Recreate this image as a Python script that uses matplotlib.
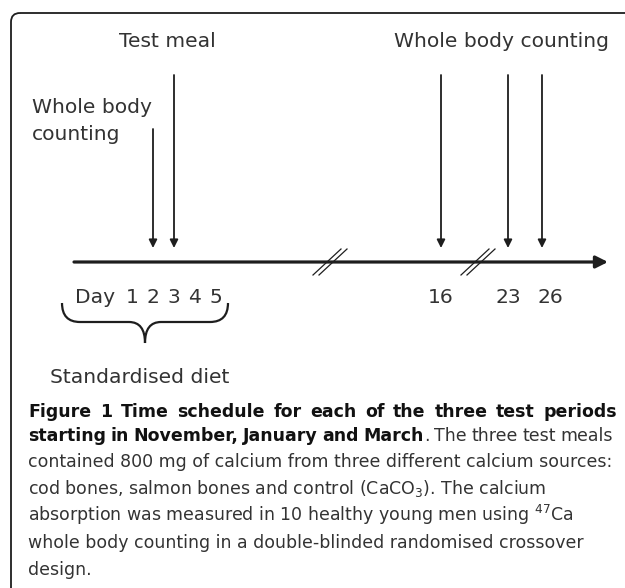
import matplotlib
matplotlib.use("Agg")
import matplotlib.pyplot as plt
import numpy as np
from matplotlib.patches import FancyBboxPatch, PathPatch
from matplotlib.path import Path

# timeline data
event_days = [2, 3, 16, 23, 26]
event_kinds = ['count', 'meal', 'count', 'count', 'count']
day_labels = [1, 2, 3, 4, 5, 16, 23, 26]
top_labels = ['Test meal', 'Whole body counting']
side_label = ['Whole body', 'counting']
brace_label = 'Standardised diet'

caption_line1 = 'Figure 1 Time schedule for each of the three test periods'
caption_line2_bold = 'starting in November, January and March'
caption_line2_rest = '. The three test meals'
caption_rest = [
    'contained 800 mg of calcium from three different calcium sources:',
    r'cod bones, salmon bones and control (CaCO$_3$). The calcium',
    r'absorption was measured in 10 healthy young men using $^{47}$Ca',
    'whole body counting in a double-blinded randomised crossover',
    'design.',
]

# broken axis: (anchor day, anchor px, px per day, px start, px end)
segments = [(1, 132, 21.0, 0, 330), (16, 441, 21.0, 330.5, 478),
            (23, 508, 11.33, 478.5, 625)]
knot_px, knot_day = [], []
for d0, p0, k, a, b in segments:
    for p in (a, b):
        knot_px.append(p)
        knot_day.append(d0 + (p - p0) / k)
knot_px = np.array(knot_px)
knot_day = np.array(knot_day)

def fwd(d):
    return np.interp(d, knot_day, knot_px)

def inv(p):
    return np.interp(p, knot_px, knot_day)

W, H = 625, 588
fig = plt.figure(figsize=(W / 100, H / 100), dpi=100)
ax = fig.add_axes([0, 0, 1, 1])
ax.set_xlim(0, W)
ax.set_ylim(H, 0)
ax.axis('off')

tl = fig.add_axes([0, 0, 1, 1])
tl.set_xscale('function', functions=(fwd, inv))
tl.set_xlim(knot_day[0], knot_day[-1])
tl.set_ylim(H, 0)
tl.axis('off')
tl.patch.set_alpha(0)

dark = '#1e1e1e'
txt = '#333333'
dfont = dict(family='DejaVu Sans', fontsize=14.6, color=txt)

# frame with rounded corner
ax.add_patch(FancyBboxPatch((11, 13), 900, 900, boxstyle='round,pad=0,rounding_size=9',
                            fc='none', ec=dark, lw=1.3))

# main time axis
axis_y = 262
tl.annotate('', xy=(inv(608), axis_y), xytext=(inv(74), axis_y),
            arrowprops=dict(arrowstyle='-|>', lw=2.3, color=dark, mutation_scale=18,
                            shrinkA=0, shrinkB=0))

# break marks
for bx in (330, 478):
    for off in (-3, 3):
        ax.plot([bx - 14 + off, bx + 14 + off], [axis_y + 13, axis_y - 13],
                color=dark, lw=0.9)

# event arrows
for i, (d, kind) in enumerate(zip(event_days, event_kinds)):
    top = 129 if (kind == 'count' and i == 0) else 75
    tl.annotate('', xy=(d, 248), xytext=(d, top),
                arrowprops=dict(arrowstyle='-|>', lw=1.3, color=dark, mutation_scale=12,
                                shrinkA=0, shrinkB=0))

# day labels
ax.text(75, 303, 'Day', ha='left', va='baseline', **dfont)
for d in day_labels:
    xo = 8 if d == 26 else 0
    tl.text(inv(fwd(d) + xo) if xo else d, 303, str(d), ha='center', va='baseline', **dfont)

# text labels
ax.text(167, 47, top_labels[0], ha='center', va='baseline', **dfont)
ax.text(502, 47, top_labels[1], ha='center', va='baseline', **dfont)
ax.text(32, 113, side_label[0], ha='left', va='baseline', **dfont)
ax.text(32, 140, side_label[1], ha='left', va='baseline', **dfont)
ax.text(50, 383, brace_label, ha='left', va='baseline', **dfont)

# curly brace
L, R, yt, yh, yb = 62, 228, 303, 322, 343
c = (L + R) / 2
verts = [(L, yt), (L, yh), (L + 18, yh), (c - 16, yh), (c, yh), (c, yb),
         (c, yh), (c + 16, yh), (R - 18, yh), (R, yh), (R, yt)]
codes = [Path.MOVETO, Path.CURVE3, Path.CURVE3, Path.LINETO, Path.CURVE3, Path.CURVE3,
         Path.CURVE3, Path.CURVE3, Path.LINETO, Path.CURVE3, Path.CURVE3]
ax.add_patch(PathPatch(Path(verts, codes), fc='none', ec=dark, lw=1.6))

# caption
cx = 28
rend = fig.canvas.get_renderer()

def justify(y, tokens, x_end):
    # tokens: (text, bold, glued to previous word)
    arts = []
    for t, b, g in tokens:
        a = ax.text(0, y, t, ha='left', va='baseline', family='DejaVu Sans',
                    fontsize=12.5, color='#111111' if b else txt,
                    fontweight='bold' if b else 'normal')
        arts.append(a)
    widths = [a.get_window_extent(rend).width for a in arts]
    gaps = sum(1 for t in tokens[1:] if not t[2])
    gap = (x_end - cx - sum(widths)) / gaps
    x = cx
    for i, (a, w) in enumerate(zip(arts, widths)):
        if i > 0 and not tokens[i][2]:
            x += gap
        a.set_x(x)
        x += w

justify(417, [(w, True, False) for w in caption_line1.split()], 617)
line2 = [(w, True, False) for w in caption_line2_bold.split()]
rest = caption_line2_rest.split()
line2.append((rest[0], False, True))
line2 += [(w, False, False) for w in rest[1:]]
justify(441, line2, 613)

for i, line in enumerate(caption_rest):
    ax.text(cx, 467 + 27 * i, line, ha='left', va='baseline', color=txt,
            family='DejaVu Sans', fontsize=12.5)

fig.savefig('out.png', dpi=100)
